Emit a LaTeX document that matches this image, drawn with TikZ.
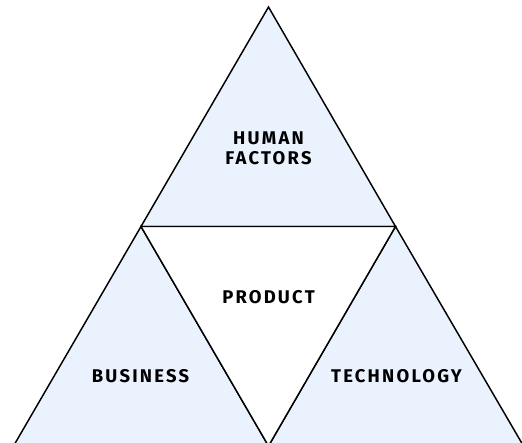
\documentclass[tikz,border=0pt]{standalone}
\usepackage{fontspec}
\setmainfont{Fira Sans}[LetterSpace=12]
\usepackage{xcolor}
\usepackage{tikz}
\usetikzlibrary{positioning}
\definecolor{paleblue}{HTML}{EAF3FD}
\tikzset{
  facet/.style={draw=black, line width=1.1pt, line join=miter},
  facetlabel/.style={font=\bfseries\fontsize{13.8}{15}\selectfont, align=center, inner sep=0pt}
}

\begin{document}
\begin{tikzpicture}[x=0.75pt,y=0.75pt,yscale=-1,xscale=1]
\useasboundingbox (0,0) rectangle (522,443);

%Corners of the big triangle
\coordinate (apex) at (268.5,7);
\coordinate (midL) at (141,226.5);
\coordinate (midR) at (395.5,226.5);
\coordinate (baseL) at (13.5,446);
\coordinate (baseM) at (268.5,446);
\coordinate (baseR) at (523.5,446);

%Shape: Triangle [top]
\draw [facet, fill=paleblue] (apex) -- (midR) -- (midL) -- cycle ;
%Shape: Triangle [left]
\draw [facet, fill=paleblue] (midL) -- (baseM) -- (baseL) -- cycle ;
%Shape: Triangle [right]
\draw [facet, fill=paleblue] (midR) -- (baseR) -- (baseM) -- cycle ;
%Shape: Triangle [middle]
\draw [facet, fill=white] (midL) -- (midR) -- (baseM) -- cycle ;

\node [facetlabel] (human) at (268.5,148) {HUMAN\\FACTORS};
\node [facetlabel] (product) at (268.5,297) {PRODUCT};
\node [facetlabel] (business) at (140.5,376) {BUSINESS};
\node [facetlabel] (technology) at (396.5,376) {TECHNOLOGY};

\end{tikzpicture}
\end{document}
